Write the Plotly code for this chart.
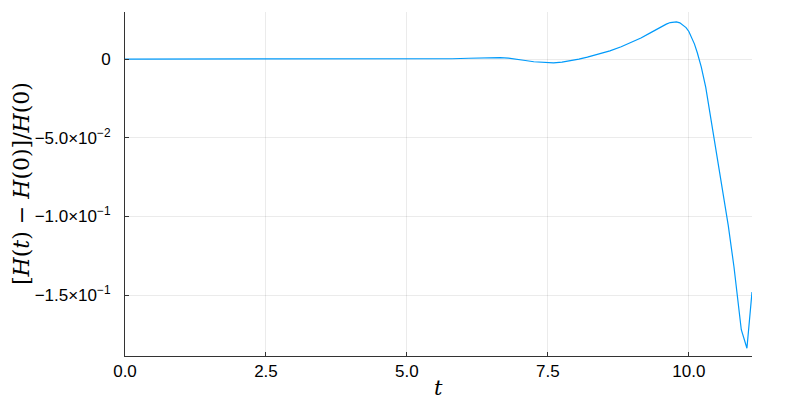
import plotly.graph_objects as go

t = [0.0, 0.5, 1.0, 1.5, 2.0, 2.5, 3.0, 3.5, 4.0, 4.5, 5.0, 5.5, 5.8, 6.1, 6.3, 6.5, 6.65,
     6.8, 6.95, 7.1, 7.25, 7.4, 7.5, 7.6, 7.75, 7.9, 8.05, 8.2, 8.4, 8.6, 8.8, 9.0, 9.15,
     9.3, 9.42, 9.52, 9.6, 9.67, 9.72, 9.78, 9.84, 9.9, 9.95,
     10.0, 10.05, 10.1, 10.15, 10.22, 10.3, 10.4, 10.5, 10.6, 10.7, 10.8, 10.93, 11.03, 11.12]
dH = [0.0, 0.0, 0.0, 0.0, 0.0, 0.0, 0.0, 0.0, 0.0, 0.0, 0.0, 0.0001, 0.0002, 0.0005, 0.0007, 0.0009, 0.0009,
      0.0006, 0.0000, -0.0009, -0.0017, -0.0022, -0.0024, -0.0024, -0.0019, -0.0011, 0.0000, 0.0012, 0.0030, 0.0052, 0.0078, 0.0108, 0.0134,
      0.0163, 0.0188, 0.0208, 0.0222, 0.0232, 0.0236, 0.0236, 0.0230, 0.0216, 0.0200,
      0.0175, 0.0140, 0.0095, 0.0040, -0.0050, -0.0180, -0.0400, -0.0620, -0.0840, -0.1060,
      -0.1320, -0.1720, -0.1838, -0.1480]

ytick_vals = [0, -0.05, -0.10, -0.15]
ytick_text = ["0", "−5.0×10<sup>−2</sup>", "−1.0×10<sup>−1</sup>", "−1.5×10<sup>−1</sup>"]
xtick_vals = [0, 2.5, 5.0, 7.5, 10.0]
xtick_text = ["0.0", "2.5", "5.0", "7.5", "10.0"]

fig = go.Figure()
fig.add_trace(go.Scatter(x=t, y=dH, mode="lines", line=dict(color="#009AFA", width=1.2),
                         showlegend=False))

axis_common = dict(showline=True, linecolor="#333333", linewidth=1, ticks="inside", ticklen=4,
                   tickcolor="#333333", showgrid=True, gridcolor="rgba(0,0,0,0.08)", gridwidth=1,
                   zeroline=False, tickfont=dict(family="Liberation Sans", size=17, color="black"),
                   mirror=False)

fig.update_layout(
    width=792, height=392,
    margin=dict(l=117, r=48, t=4, b=44),
    paper_bgcolor="white", plot_bgcolor="white",
    xaxis=dict(range=[0, t[-1]], tickvals=xtick_vals, ticktext=xtick_text, **axis_common),
    yaxis=dict(range=[-0.1887, 0.0299], tickvals=ytick_vals, ticktext=ytick_text,
               ticklabelstandoff=10, **axis_common),
    annotations=[
        dict(text="[<i>H</i>(<i>t</i>) − <i>H</i>(0)]/<i>H</i>(0)", xref="paper", yref="paper",
             x=0, y=0.5, xanchor="center", yanchor="middle", xshift=-104, textangle=-90,
             showarrow=False, font=dict(family="DejaVu Serif", size=22, color="black")),
        dict(text="<i>t</i>", xref="paper", yref="paper", x=0.5, y=0, xanchor="center",
             yanchor="middle", yshift=-32,
             showarrow=False, font=dict(family="DejaVu Serif", size=21, color="black")),
    ],
)

fig.write_html("out.html")
